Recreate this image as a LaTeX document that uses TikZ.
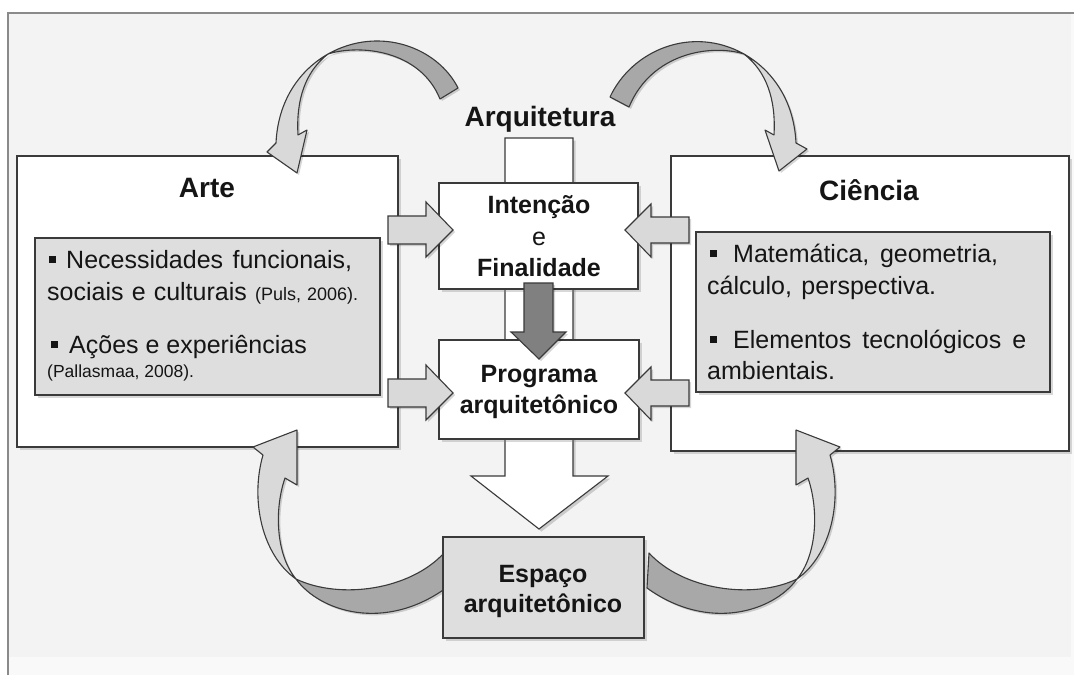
\documentclass[tikz,border=0pt]{standalone}
\usepackage{fontspec}
\setmainfont{Liberation Sans}
\usetikzlibrary{shadows}
\definecolor{bg}{HTML}{F3F3F3}
\definecolor{bgb}{HTML}{F9F9F9}
\definecolor{frame}{HTML}{8A8A8A}
\definecolor{edge}{HTML}{3A3A3A}
\definecolor{panel}{HTML}{DEDEDE}
\definecolor{arrlight}{HTML}{D9D9D9}
\definecolor{arrdark}{HTML}{A8A8A8}
\definecolor{arrdeep}{HTML}{808080}
\definecolor{txt}{HTML}{151515}
\newcommand{\bul}{\rule[5pt]{7pt}{7pt}}
\newcommand{\fs}[1]{\fontsize{#1}{#1}\selectfont}
% top-left curved arrow: dark back part and light front part
\newcommand{\LTdark}{(458,88) .. controls (438,48) and (380,25) .. (328,54) .. controls (360,44) and (420,50) .. (440,99) -- cycle}
\newcommand{\LTlight}{(328,54) .. controls (300,70) and (278,100) .. (276,143) -- (267,152) -- (297,173) -- (307,130) -- (298,135) .. controls (296,100) and (305,72) .. (328,54) -- cycle}
% top-right curved arrow
\newcommand{\RTdark}{(610,97) .. controls (632,50) and (692,25) .. (744,54) .. controls (712,44) and (652,52) .. (629,107) -- cycle}
\newcommand{\RTlight}{(744,54) .. controls (772,70) and (794,100) .. (796,143) -- (807,149) -- (779,171) -- (765,130) -- (774,135) .. controls (776,100) and (767,72) .. (744,54) -- cycle}
% bottom-left curved arrow
\newcommand{\LBlight}{(297,430) -- (297,485) -- (285,478) .. controls (274,510) and (276,555) .. (296,579) .. controls (262,555) and (250,500) .. (263,455) -- (253,447) -- cycle}
\newcommand{\LBdark}{(296,579) .. controls (320,612) and (385,632) .. (446,588) -- (444,553) .. controls (410,590) and (340,600) .. (296,579) -- cycle}
\begin{document}
\begin{tikzpicture}[x=1pt,y=-1pt,
  box/.style={draw=edge, line width=1.3pt, fill=white, rectangle, inner sep=0pt,
    drop shadow={shadow xshift=2.5pt, shadow yshift=-2.5pt, opacity=0.3}},
  panelbox/.style={box, fill=panel},
  blockarrow/.style={draw=edge, line width=1.1pt, line join=miter, fill=arrlight},
  shade/.style={black, opacity=0.16},
  curvedge/.style={draw=edge, line width=1.1pt, line join=round},
  title/.style={anchor=base, inner sep=0pt, text=txt, font=\bfseries\fs{28}},
  ctext/.style={anchor=base, inner sep=0pt, text=txt, font=\bfseries\fs{25}},
  btext/.style={anchor=base west, inner sep=0pt, text=txt, font=\fs{25}},
  smalltext/.style={anchor=base west, inner sep=0pt, text=txt, font=\fs{17.5}}
]
\useasboundingbox (0,0) rectangle (1074,675);
% background
\fill[white] (0,0) rectangle (1074,675);
\fill[bgb] (8,13) rectangle (1074,675);
\fill[bg] (8,13) rectangle (1071,657);
\draw[frame, line width=1.2pt] (8,675) -- (8,13) -- (1074,13);

% big white down arrow (behind central boxes)
\fill[shade, shift={(2.5,2.5)}] (505,138) -- (573,138) -- (573,476) -- (608,476) -- (539,529) -- (471,476) -- (505,476) -- cycle;
\draw[blockarrow, fill=white] (505,138) -- (573,138) -- (573,476) -- (608,476) -- (539,529) -- (471,476) -- (505,476) -- cycle;

% main boxes
\node[box, minimum width=381pt, minimum height=291pt] (arte) at (207.5,301.5) {};
\node[panelbox, minimum width=345pt, minimum height=157pt] (artep) at (207.5,316.5) {};
\node[box, minimum width=398pt, minimum height=295pt] (cien) at (870,303.5) {};
\node[panelbox, minimum width=354pt, minimum height=160pt] (ciep) at (873,312) {};
\node[box, minimum width=199pt, minimum height=106pt] (inten) at (538.5,236) {};
\node[box, minimum width=200pt, minimum height=99pt] (prog) at (539,389.5) {};

% straight block arrows
\foreach \yy in {230,393}{
  \fill[shade, shift={(2,2)}] (388,\yy-14) -- (426,\yy-14) -- (426,\yy-28) -- (453,\yy) -- (426,\yy+27) -- (426,\yy+14) -- (388,\yy+14) -- cycle;
  \draw[blockarrow] (388,\yy-14) -- (426,\yy-14) -- (426,\yy-28) -- (453,\yy) -- (426,\yy+27) -- (426,\yy+14) -- (388,\yy+14) -- cycle;
  \fill[shade, shift={(2,2)}] (689,\yy-13) -- (651,\yy-13) -- (651,\yy-26) -- (625,\yy) -- (651,\yy+27) -- (651,\yy+13) -- (689,\yy+13) -- cycle;
  \draw[blockarrow] (689,\yy-13) -- (651,\yy-13) -- (651,\yy-26) -- (625,\yy) -- (651,\yy+27) -- (651,\yy+13) -- (689,\yy+13) -- cycle;
}
% dark arrow between central boxes
\fill[shade, shift={(2,2)}] (524,283) -- (553,283) -- (553,332) -- (566,332) -- (539,359) -- (511,332) -- (524,332) -- cycle;
\draw[blockarrow, fill=arrdeep] (524,283) -- (553,283) -- (553,332) -- (566,332) -- (539,359) -- (511,332) -- (524,332) -- cycle;

% curved arrow top-left
\fill[shade, shift={(2,2)}] \LTdark;
\fill[shade, shift={(2,2)}] \LTlight;
\draw[curvedge, fill=arrdark] \LTdark;
\draw[curvedge, fill=arrlight] \LTlight;
% curved arrow top-right
\fill[shade, shift={(2,2)}] \RTdark;
\fill[shade, shift={(2,2)}] \RTlight;
\draw[curvedge, fill=arrdark] \RTdark;
\draw[curvedge, fill=arrlight] \RTlight;
% curved arrow bottom-left
\fill[shade, shift={(2,2)}] \LBdark;
\fill[shade, shift={(2,2)}] \LBlight;
\draw[curvedge, fill=arrdark] \LBdark;
\draw[curvedge, fill=arrlight] \LBlight;
% curved arrow bottom-right (mirror image)
\begin{scope}[shift={(1093,0)}, xscale=-1]
\fill[shade, shift={(-2,2)}] \LBdark;
\fill[shade, shift={(-2,2)}] \LBlight;
\draw[curvedge, fill=arrdark] \LBdark;
\draw[curvedge, fill=arrlight] \LBlight;
\end{scope}

% result box
\node[panelbox, minimum width=201pt, minimum height=101pt] (esp) at (543.5,587.5) {};

% texts
\node[title] (arqt) at (540,126) {Arquitetura};
\node[title] (artet) at (207,197) {Arte};
\node[title] (ciet) at (869,200) {Ciência};

\node[ctext] (i1) at (539,213) {Intenção};
\node[ctext, font=\fs{25}] (i2) at (539,245) {e};
\node[ctext] (i3) at (539,276) {Finalidade};
\node[ctext] (p1) at (539,382) {Programa};
\node[ctext] (p2) at (539,413) {arquitetônico};
\node[ctext] (e1) at (543,582) {Espaço};
\node[ctext] (e2) at (543,612) {arquitetônico};

\node[btext] (a1) at (49,268) {\makebox[303pt][s]{\bul\hspace{10pt}Necessidades funcionais,}};
\node[btext] (a2) at (47,300) {\makebox[311pt][s]{sociais e culturais {\fs{18}(Puls, 2006).}}};
\node[btext] (a3) at (51,353) {\bul\hspace{11pt}Ações e experiências};
\node[smalltext] (a4) at (47,377) {(Pallasmaa, 2008).};

\node[btext] (c1) at (710,262) {\makebox[288pt][s]{\bul\hspace{16pt}Matemática, geometria,}};
\node[btext] (c2) at (707,294) {\makebox[229pt][s]{cálculo, perspectiva.}};
\node[btext] (c3) at (710,348) {\makebox[316pt][s]{\bul\hspace{16pt}Elementos tecnológicos e}};
\node[btext] (c4) at (707,379) {ambientais.};
\end{tikzpicture}
\end{document}
